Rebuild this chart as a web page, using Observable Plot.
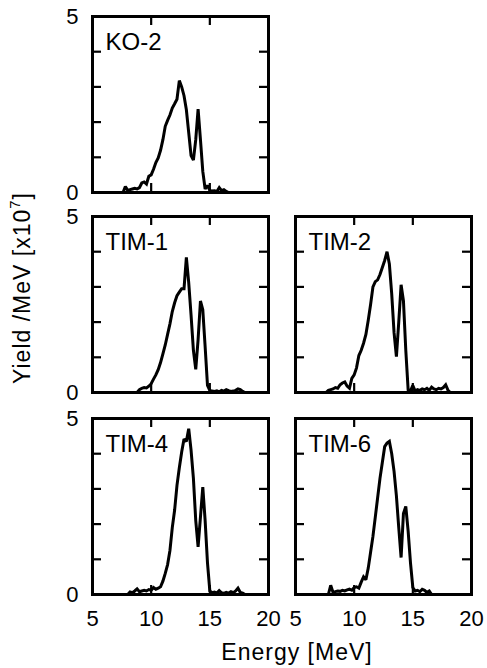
<!DOCTYPE html>
<html><head><meta charset="utf-8">
<script src="https://cdn.jsdelivr.net/npm/d3@7"></script>
<script src="https://cdn.jsdelivr.net/npm/@observablehq/plot@0.6"></script>
<style>
body{margin:0;background:#fff;}
#chart{position:relative;width:487px;height:668px;font-family:"Liberation Sans",Arial,Helvetica,sans-serif;color:#000;overflow:hidden;background:#fff}
.panel{position:absolute}
.panel svg{max-width:none}
#xtitle{position:absolute;left:297px;top:652px;transform:translate(-50%,-50%);font-size:23px;white-space:nowrap;letter-spacing:1px}
#ytitle{position:absolute;left:22px;top:288px;transform:translate(-50%,-50%) rotate(-90deg);font-size:23px;white-space:nowrap;letter-spacing:1px}
#ytitle sup{font-size:15px;vertical-align:0;position:relative;top:-10px}
</style></head><body><div id="chart"></div>
<script>
// ---- data (yield per MeV, x10^7), histogram bins of width binWidth starting at start energy ----
const binWidth = 0.2;
const panelNames = ["KO-2", "TIM-1", "TIM-2", "TIM-4", "TIM-6"];

const startKO2 = 7.6;
const yieldKO2 = [0.0,0.17,0.06,0.08,0.1,0.12,0.1,0.14,0.27,0.3,0.24,0.46,0.5,0.66,0.85,0.98,1.2,1.5,1.88,2.05,2.2,2.4,2.52,2.65,3.18,3.0,2.75,2.35,1.7,1.05,0.92,1.5,2.37,1.5,0.6,0.1,0.2,0.06,0.04,0.05,0.03,0.14,0.05,0.08,0.03,0.0];

const startTIM1 = 8.8;
const yieldTIM1 = [0.0,0.08,0.12,0.14,0.13,0.18,0.25,0.38,0.5,0.65,0.85,1.1,1.35,1.65,1.95,2.3,2.55,2.75,2.85,2.95,2.95,3.84,3.12,2.2,1.2,0.66,1.5,2.6,2.35,1.3,0.2,0.06,0.04,0.03,0.05,0.02,0.06,0.04,0.08,0.05,0.03,0.04,0.06,0.1,0.08,0.03,0.0];

const startTIM2 = 7.6;
const yieldTIM2 = [0.0,0.06,0.08,0.1,0.14,0.12,0.22,0.27,0.3,0.18,0.12,0.4,0.5,0.7,1.05,1.2,1.4,1.65,2.05,2.5,3.0,3.15,3.2,3.35,3.55,3.75,4.0,3.65,2.8,1.7,1.02,2.0,3.06,2.6,1.2,0.08,0.05,0.2,0.04,0.08,0.06,0.1,0.08,0.12,0.06,0.15,0.1,0.08,0.12,0.1,0.14,0.22,0.06,0.0];

const startTIM4 = 8.0;
const yieldTIM4 = [0.0,0.07,0.05,0.1,0.16,0.08,0.1,0.12,0.1,0.14,0.12,0.2,0.15,0.18,0.22,0.38,0.6,0.85,1.25,1.9,2.4,3.1,3.6,4.05,4.42,4.35,4.71,4.1,3.3,2.1,1.35,2.2,3.05,2.1,0.9,0.1,0.05,0.07,0.04,0.11,0.05,0.03,0.06,0.04,0.08,0.05,0.1,0.18,0.06,0.04,0.0];

const startTIM6 = 7.8;
const yieldTIM6 = [0.0,0.26,0.06,0.08,0.1,0.09,0.12,0.1,0.13,0.15,0.12,0.2,0.22,0.18,0.35,0.5,0.42,0.75,1.2,1.65,2.2,2.75,3.3,3.75,4.2,4.3,4.35,4.0,3.5,2.8,1.9,1.05,2.3,2.5,1.8,0.9,0.2,0.1,0.12,0.08,0.15,0.12,0.06,0.1,0.0];

const xTicks = [5, 10, 15, 20];
const yTicks = [0, 1, 2, 3, 4, 5];
const yTickLabels = [0, 5];
const xTitle = "Energy [MeV]";

// ---- layout ----
const W = 176, H = 176, mL = 40, mR = 8, mT = 8, mB = 44, tickLen = 9;
const panels = [
  {name: panelNames[0], start: startKO2, values: yieldKO2, left: 92, top: 16, showX: false, showY: true},
  {name: panelNames[1], start: startTIM1, values: yieldTIM1, left: 92, top: 216, showX: false, showY: true},
  {name: panelNames[2], start: startTIM2, values: yieldTIM2, left: 295, top: 216, showX: false, showY: false},
  {name: panelNames[3], start: startTIM4, values: yieldTIM4, left: 92, top: 418, showX: true, showY: true},
  {name: panelNames[4], start: startTIM6, values: yieldTIM6, left: 295, top: 418, showX: true, showY: false}
];

const chart = document.getElementById("chart");
const font = '"Liberation Sans", Arial, Helvetica, sans-serif';

for (const p of panels) {
  const data = p.values.map((v, i) => ({e: p.start + i * binWidth, v}));
  const svg = Plot.plot({
    width: W + mL + mR, height: H + mT + mB,
    marginLeft: mL, marginRight: mR, marginTop: mT, marginBottom: mB,
    style: {background: "transparent", overflow: "visible", fontSize: "22px", fontFamily: font, color: "#000"},
    x: {domain: [5, 20], ticks: xTicks, tickFormat: d => String(d), tickSize: 0, tickPadding: 16, label: null, axis: p.showX ? "bottom" : null},
    y: {domain: [0, 5], ticks: yTickLabels, tickFormat: d => String(d), tickSize: 0, tickPadding: 14, label: null, axis: p.showY ? "left" : null},
    marks: [
      Plot.ruleX(xTicks, {x: d => d, insetTop: H - tickLen, stroke: "#000", strokeWidth: 2.2}),
      Plot.ruleX(xTicks, {x: d => d, insetBottom: H - tickLen, stroke: "#000", strokeWidth: 2.2}),
      Plot.ruleY(yTicks, {y: d => d, insetRight: W - tickLen, stroke: "#000", strokeWidth: 2.2}),
      Plot.ruleY(yTicks, {y: d => d, insetLeft: W - tickLen, stroke: "#000", strokeWidth: 2.2}),
      Plot.line(data, {x: "e", y: "v", curve: "linear", stroke: "#000", strokeWidth: 3, strokeLinejoin: "miter", strokeMiterlimit: 2}),
      Plot.text([p.name], {text: d => d, frameAnchor: "top-left", dx: 13, dy: 16, fontSize: 24, textAnchor: "start", fill: "#000"}),
      Plot.frame({stroke: "#000", strokeWidth: 3})
    ]
  });
  const div = document.createElement("div");
  div.className = "panel";
  div.style.left = (p.left - mL) + "px";
  div.style.top = (p.top - mT) + "px";
  div.appendChild(svg);
  chart.appendChild(div);
}

const xt = document.createElement("div");
xt.id = "xtitle";
xt.textContent = xTitle;
chart.appendChild(xt);

const yt = document.createElement("div");
yt.id = "ytitle";
yt.innerHTML = "Yield /MeV [x10<sup>7</sup>]";
chart.appendChild(yt);
</script>
</body></html>
